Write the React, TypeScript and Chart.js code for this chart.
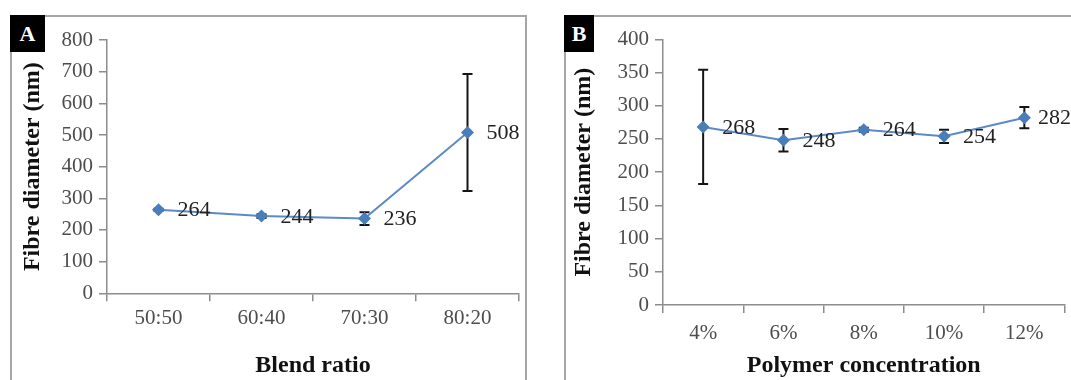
import React, { useEffect, useRef } from 'react';
import { Chart, registerables } from 'chart.js';

Chart.register(...registerables);

// Panel A data
const blendRatios = ['50:50', '60:40', '70:30', '80:20'];
const blendDiameters = [264, 244, 236, 508];
const blendErrors = [3, 6, 20, 185];
const blendAxisMax = 800;
const blendAxisStep = 100;

// Panel B data
const concentrations = ['4%', '6%', '8%', '10%', '12%'];
const concDiameters = [268, 248, 264, 254, 282];
const concErrors = [86, 17, 3, 10, 16];
const concAxisMax = 400;
const concAxisStep = 50;

const yTitle = 'Fibre diameter (nm)';
const SERIF = '"Liberation Serif", "Times New Roman", serif';
const LINE_BLUE = '#4a7ebb';
const AXIS_GRAY = '#8c8c8c';

const errorBarPlugin = {
  id: 'errorBars',
  beforeDatasetsDraw(chart: any) {
    const ctx = chart.ctx;
    const yScale = chart.scales.y;
    chart.data.datasets.forEach((ds: any, i: number) => {
      const errs = ds.errors as number[] | undefined;
      if (!errs) return;
      const meta = chart.getDatasetMeta(i);
      meta.data.forEach((pt: any, j: number) => {
        const v = ds.data[j];
        const e = errs[j];
        const top = yScale.getPixelForValue(v + e);
        const bot = yScale.getPixelForValue(v - e);
        ctx.save();
        ctx.strokeStyle = '#151515';
        ctx.lineWidth = 2;
        ctx.beginPath();
        ctx.moveTo(pt.x, top);
        ctx.lineTo(pt.x, bot);
        ctx.moveTo(pt.x - 5, top);
        ctx.lineTo(pt.x + 5, top);
        ctx.moveTo(pt.x - 5, bot);
        ctx.lineTo(pt.x + 5, bot);
        ctx.stroke();
        ctx.restore();
      });
    });
  },
};

const valueLabelPlugin = {
  id: 'valueLabels',
  afterDatasetsDraw(chart: any) {
    const ctx = chart.ctx;
    chart.data.datasets.forEach((ds: any, i: number) => {
      const meta = chart.getDatasetMeta(i);
      meta.data.forEach((pt: any, j: number) => {
        const text = String(ds.data[j]);
        ctx.save();
        ctx.font = `22px ${SERIF}`;
        ctx.fillStyle = '#222';
        ctx.textAlign = 'left';
        ctx.textBaseline = 'middle';
        const w = ctx.measureText(text).width;
        const x = Math.min(pt.x + 19, chart.width - w);
        ctx.fillText(text, x, pt.y + 1);
        ctx.restore();
      });
    });
  },
};

type PanelProps = {
  labels: string[];
  values: number[];
  errors: number[];
  yMax: number;
  yStep: number;
  xTitle: string;
  width: number;
  height: number;
  padTop: number;
  padRight: number;
  yAxisWidth: number;
  xAxisHeight: number;
  xTickPad: number;
  xTitlePad: number;
  yTitlePad: number;
};

function Panel(p: PanelProps) {
  const ref = useRef<HTMLCanvasElement | null>(null);
  useEffect(() => {
    if (!ref.current) return;
    const gridOpts = {
      drawOnChartArea: false,
      drawTicks: true,
      tickLength: 8,
      color: AXIS_GRAY,
      lineWidth: 1.5,
    };
    const chart = new Chart(ref.current, {
      type: 'line',
      data: {
        labels: p.labels,
        datasets: [
          {
            data: p.values,
            errors: p.errors,
            borderColor: '#5b8ac6',
            backgroundColor: LINE_BLUE,
            borderWidth: 2,
            pointStyle: 'rectRot',
            pointRadius: 6.5,
            pointBorderWidth: 0,
            pointBackgroundColor: LINE_BLUE,
            tension: 0,
            clip: false,
          } as any,
        ],
      },
      options: {
        responsive: false,
        animation: false,
        devicePixelRatio: 1,
        layout: { padding: { left: 0, right: p.padRight, top: p.padTop, bottom: 0 } },
        plugins: { legend: { display: false }, tooltip: { enabled: false } },
        scales: {
          x: {
            type: 'category',
            offset: true,
            grid: { ...gridOpts, offset: true },
            border: { display: true, color: AXIS_GRAY, width: 1.5 },
            ticks: {
              font: { family: SERIF, size: 21 },
              color: '#4d4d4d',
              padding: p.xTickPad,
              maxRotation: 0,
              autoSkip: false,
            },
            title: {
              display: true,
              text: p.xTitle,
              font: { family: SERIF, size: 24, weight: 'bold' },
              color: '#111',
              padding: { top: 0, bottom: p.xTitlePad },
            },
            afterFit: (s: any) => {
              s.height = p.xAxisHeight;
            },
          },
          y: {
            min: 0,
            max: p.yMax,
            grid: gridOpts,
            border: { display: true, color: AXIS_GRAY, width: 1.5 },
            ticks: {
              stepSize: p.yStep,
              font: { family: SERIF, size: 21 },
              color: '#4d4d4d',
              padding: 6,
            },
            title: {
              display: true,
              text: yTitle,
              font: { family: SERIF, size: 24, weight: 'bold' },
              color: '#111',
              padding: { top: p.yTitlePad, bottom: 0 },
            },
            afterFit: (s: any) => {
              s.width = p.yAxisWidth;
            },
          },
        },
      } as any,
      plugins: [errorBarPlugin, valueLabelPlugin],
    });
    return () => chart.destroy();
  }, []);
  return (
    <canvas
      ref={ref}
      width={p.width}
      height={p.height}
      style={{ width: p.width, height: p.height, display: 'block' }}
    />
  );
}

const labelBox = (text: string, left: number, width: number) => (
  <div
    style={{
      position: 'absolute',
      left,
      top: 15,
      width,
      height: 37,
      background: '#000',
      color: '#fff',
      fontFamily: SERIF,
      fontWeight: 'bold',
      fontSize: 22,
      lineHeight: '37px',
      textAlign: 'center',
      zIndex: 2,
    }}
  >
    {text}
  </div>
);

export default function App() {
  return (
    <div
      style={{
        position: 'fixed',
        left: 0,
        top: 0,
        width: 1071,
        height: 380,
        background: '#fff',
        overflow: 'hidden',
      }}
    >
      {/* Panel A frame */}
      <div
        style={{
          position: 'absolute',
          left: 10,
          top: 15,
          width: 517,
          height: 420,
          border: '2px solid #a6a6a6',
          boxSizing: 'border-box',
        }}
      />
      {/* Panel B frame */}
      <div
        style={{
          position: 'absolute',
          left: 564,
          top: 15,
          width: 620,
          height: 420,
          border: '2px solid #a6a6a6',
          boxSizing: 'border-box',
        }}
      />
      <div style={{ position: 'absolute', left: 10, top: 15, zIndex: 1 }}>
        <Panel
          labels={blendRatios}
          values={blendDiameters}
          errors={blendErrors}
          yMax={blendAxisMax}
          yStep={blendAxisStep}
          xTitle="Blend ratio"
          width={517}
          height={365}
          padTop={25}
          padRight={8}
          yAxisWidth={97}
          xAxisHeight={86.7}
          xTickPad={5}
          xTitlePad={0}
          yTitlePad={8}
        />
      </div>
      <div style={{ position: 'absolute', left: 564, top: 15, zIndex: 1 }}>
        <Panel
          labels={concentrations}
          values={concDiameters}
          errors={concErrors}
          yMax={concAxisMax}
          yStep={concAxisStep}
          xTitle="Polymer concentration"
          width={507}
          height={365}
          padTop={24.3}
          padRight={4}
          yAxisWidth={99}
          xAxisHeight={75}
          xTickPad={8}
          xTitlePad={0}
          yTitlePad={5}
        />
      </div>
      {labelBox('A', 10, 35)}
      {labelBox('B', 564, 30)}
    </div>
  );
}
